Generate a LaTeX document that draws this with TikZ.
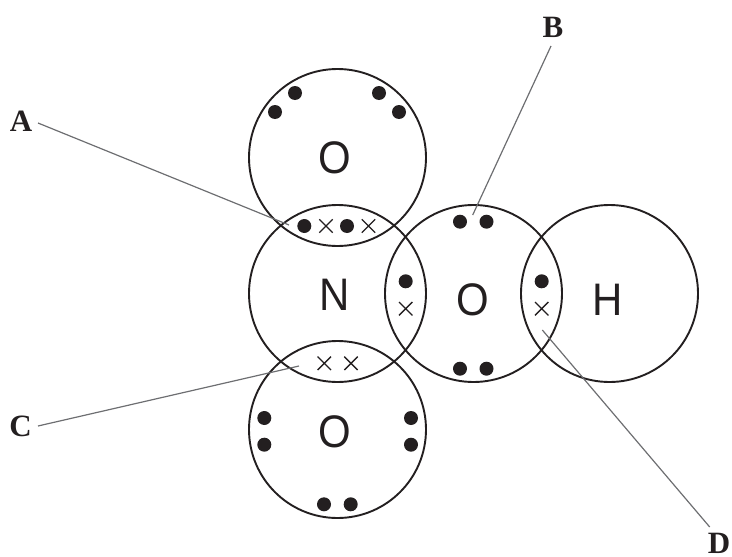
\documentclass[tikz,border=0pt]{standalone}
\usepackage{fontspec}
\setmainfont{Liberation Sans}[FakeStretch=0.92]
\newfontfamily\labelfont{Liberation Serif}
\definecolor{ink}{HTML}{231F20}
\definecolor{leader}{HTML}{6D6E71}
\usetikzlibrary{shapes.misc}
\tikzset{
  x=1pt,y=-1pt,
  shell/.style={circle,draw=ink,line width=1.9pt,minimum size=177pt,inner sep=0pt},
  sym/.style={text=ink,inner sep=0pt,font=\fontsize{45.6}{46}\selectfont},
  edot/.style={circle,fill=ink,minimum size=14pt,inner sep=0pt},
  ecross/.style={cross out,draw=ink,line width=1.4pt,minimum size=12pt,inner sep=0pt},
  tag/.style={text=ink,inner sep=0pt,font=\labelfont\bfseries\fontsize{31}{31}\selectfont},
  leadline/.style={draw=leader,line width=1.2pt}
}
\begin{document}
\begin{tikzpicture}
\useasboundingbox (0,0) rectangle (732,557);
% shells
\node[shell] (sO1) at (337.5,157.5) {};
\node[shell] (sN)  at (337.5,293.5) {};
\node[shell] (sO2) at (473.5,293.5) {};
\node[shell] (sH)  at (609.5,293.5) {};
\node[shell] (sO3) at (337.5,429.5) {};
% symbols
\node[sym] (tO1) at (335,158) {O};
\node[sym] (tN)  at (335,295) {N};
\node[sym] (tO2) at (473,300) {O};
\node[sym] (tH)  at (607.5,300) {H};
\node[sym] (tO3) at (335,432) {O};
% electrons
\node[edot] (d1) at (295,93) {};
\node[edot] (d2) at (275,112) {};
\node[edot] (d3) at (379,93) {};
\node[edot] (d4) at (399,112) {};
\node[edot] (d5) at (304.3,226) {};
\node[ecross] (x1) at (326,226) {};
\node[edot] (d6) at (347,226) {};
\node[ecross] (x2) at (368.5,226) {};
\node[edot] (d7) at (460,221.7) {};
\node[edot] (d8) at (486.5,221.7) {};
\node[edot] (d9) at (460,368.7) {};
\node[edot] (d10) at (486.5,368.7) {};
\node[edot] (d11) at (405.7,281.3) {};
\node[ecross] (x3) at (405.7,308.7) {};
\node[edot] (d12) at (541.7,281.3) {};
\node[ecross] (x4) at (541.7,308.7) {};
\node[ecross] (x5) at (324.3,363.3) {};
\node[ecross] (x6) at (351,363.3) {};
\node[edot] (d13) at (264.3,418) {};
\node[edot] (d14) at (264.3,444.7) {};
\node[edot] (d15) at (411,418) {};
\node[edot] (d16) at (411,444.7) {};
\node[edot] (d17) at (324,504.3) {};
\node[edot] (d18) at (350.7,504.3) {};
% labels
\node[tag] (A) at (21,121) {A};
\node[tag] (B) at (553,27.5) {B};
\node[tag] (C) at (20.5,426.5) {C};
\node[tag] (D) at (719,543) {D};
% leader ends
\coordinate (eA) at (289,225);
\coordinate (eB) at (472.7,215);
\coordinate (eC) at (299,366);
\coordinate (eD) at (542.3,330);
\coordinate (sA) at (38,123);
\coordinate (sB) at (551,46);
\coordinate (sC) at (38,426);
\coordinate (sD) at (709.7,527);
\draw[leadline] (sA) -- (eA);
\draw[leadline] (sB) -- (eB);
\draw[leadline] (sC) -- (eC);
\draw[leadline] (sD) -- (eD);
\end{tikzpicture}
\end{document}
